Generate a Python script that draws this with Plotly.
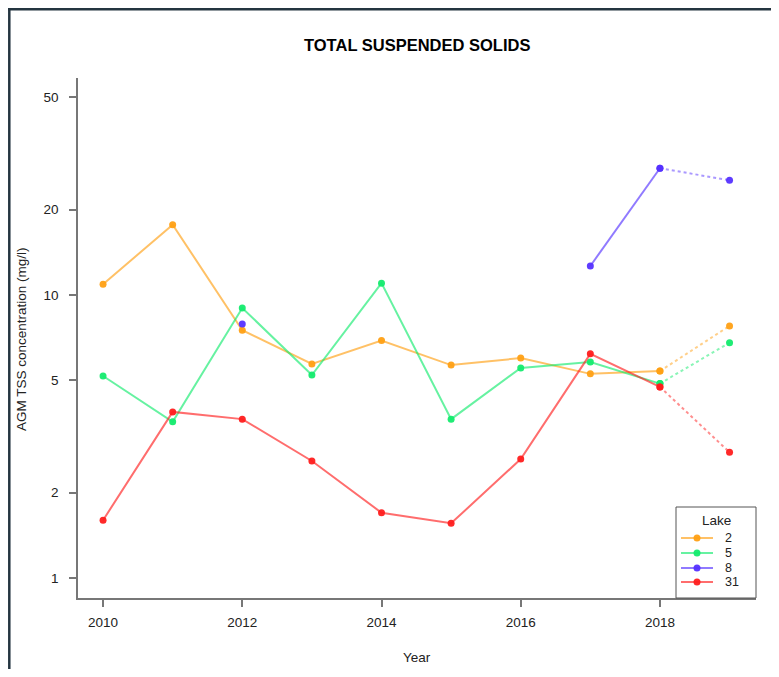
import plotly.graph_objects as go

years = [2010, 2011, 2012, 2013, 2014, 2015, 2016, 2017, 2018, 2019]
lake_names = ["2", "5", "8", "31"]
lake2 = [10.9, 17.7, 7.5, 5.7, 6.9, 5.65, 5.98, 5.26, 5.38, 7.77]
lake5 = [5.17, 3.56, 8.99, 5.21, 11.0, 3.64, 5.52, 5.79, 4.86, 6.78]
lake8 = [None, None, 7.89, None, None, None, None, 12.65, 28.0, 25.4]
lake31 = [1.60, 3.86, 3.64, 2.59, 1.70, 1.56, 2.63, 6.19, 4.73, 2.78]
series = [lake2, lake5, lake8, lake31]

y_ticks = [1, 2, 5, 10, 20, 50]
x_ticks = [2010, 2012, 2014, 2016, 2018]

marker_colors = ["rgba(255,160,20,0.95)", "rgba(20,235,110,0.95)", "rgba(85,50,255,0.95)", "rgba(255,30,30,0.95)"]
line_colors = ["rgba(255,160,20,0.65)", "rgba(20,235,110,0.65)", "rgba(85,50,255,0.65)", "rgba(255,30,30,0.65)"]
dot_colors = ["rgba(255,160,20,0.5)", "rgba(20,235,110,0.5)", "rgba(85,50,255,0.5)", "rgba(255,30,30,0.5)"]

fig = go.Figure()
for name, vals, mc, lc, dc in zip(lake_names, series, marker_colors, line_colors, dot_colors):
    fig.add_trace(go.Scatter(
        x=years[:-1], y=vals[:-1], mode="lines+markers", name=name,
        line=dict(color=lc, width=2), marker=dict(color=mc, size=7),
        connectgaps=False, legendgroup=name, showlegend=False))
    fig.add_trace(go.Scatter(
        x=years[-2:], y=vals[-2:], mode="lines+markers", name=name,
        line=dict(color=dc, width=2, dash="dot"), marker=dict(color=mc, size=7),
        showlegend=False, legendgroup=name))

# page has an 8px body margin; figure coordinates = screen - 8
W, H = 763, 661
L, T = 70, 70
PR, PB = 748, 590  # plot right / bottom in figure pixels
R, B = W - PR, H - PB
pw, ph = PR - L, PB - T

def px(xp):
    return (xp - 8 - L) / pw

def py(yp):
    return (PB - (yp - 8)) / ph

font = "Liberation Sans, Arial, sans-serif"
txt = "#222"

shapes = [
    dict(type="line", xref="paper", yref="paper", x0=px(9.3), x1=px(9.3), y0=py(8), y1=py(700),
         line=dict(color="#243540", width=2.5)),
    dict(type="line", xref="paper", yref="paper", x0=px(8), x1=px(800), y0=py(9.3), y1=py(9.3),
         line=dict(color="#243540", width=2.5)),
    # legend box
    dict(type="rect", xref="paper", yref="paper", x0=px(676), x1=px(756), y0=py(598), y1=py(507),
         line=dict(color="#555", width=1), fillcolor="white"),
]
annotations = [
    dict(text="<b>TOTAL SUSPENDED SOLIDS</b>", xref="paper", yref="paper",
         x=px(417), y=py(45), showarrow=False, font=dict(size=16.5, color="black"),
         xanchor="center", yanchor="middle"),
    dict(text="Year", xref="paper", yref="paper", x=px(417), y=py(657),
         showarrow=False, font=dict(size=13.5, color=txt), xanchor="center", yanchor="middle"),
    dict(text="AGM TSS concentration (mg/l)", xref="paper", yref="paper",
         x=px(21), y=py(339), showarrow=False, textangle=-90,
         font=dict(size=13.5, color=txt), xanchor="center", yanchor="middle"),
    dict(text="Lake", xref="paper", yref="paper", x=px(716), y=py(520),
         showarrow=False, font=dict(size=13.5, color=txt), xanchor="center", yanchor="middle"),
]
row_y = [538, 553, 568, 582]
for name, mc, lc, ry in zip(lake_names, marker_colors, line_colors, row_y):
    shapes.append(dict(type="line", xref="paper", yref="paper", x0=px(681), x1=px(713),
                       y0=py(ry), y1=py(ry), line=dict(color=lc, width=2)))
    shapes.append(dict(type="circle", xref="paper", yref="paper", x0=px(693.5), x1=px(700.5),
                       y0=py(ry + 3.5), y1=py(ry - 3.5), line=dict(width=0), fillcolor=mc))
    annotations.append(dict(text=name, xref="paper", yref="paper", x=px(723), y=py(ry),
                            showarrow=False, font=dict(size=12.5, color=txt),
                            xanchor="left", yanchor="middle"))

fig.update_layout(
    width=W, height=H,
    margin=dict(l=L, r=R, t=T, b=B, pad=0),
    paper_bgcolor="white", plot_bgcolor="white",
    font=dict(family=font, size=13.5, color=txt),
    showlegend=False,
    xaxis=dict(
        range=[2009.64, 2019.38], tickvals=x_ticks, ticktext=[str(v) for v in x_ticks],
        showgrid=False, zeroline=False, showline=True, linecolor="#777", linewidth=1.5,
        ticks="outside", ticklen=7, tickcolor="#777", tickwidth=1.5, ticklabelstandoff=4,
        tickfont=dict(size=13.5, color=txt),
    ),
    yaxis=dict(
        type="log", range=[-0.0707, 1.766], tickvals=y_ticks, ticktext=[str(v) for v in y_ticks],
        showgrid=False, zeroline=False, showline=True, linecolor="#777", linewidth=1.5,
        ticks="outside", ticklen=7, tickcolor="#777", tickwidth=1.5, ticklabelstandoff=8,
        tickfont=dict(size=13.5, color=txt),
    ),
    annotations=annotations,
    shapes=shapes,
)

fig.write_html("out.html")
